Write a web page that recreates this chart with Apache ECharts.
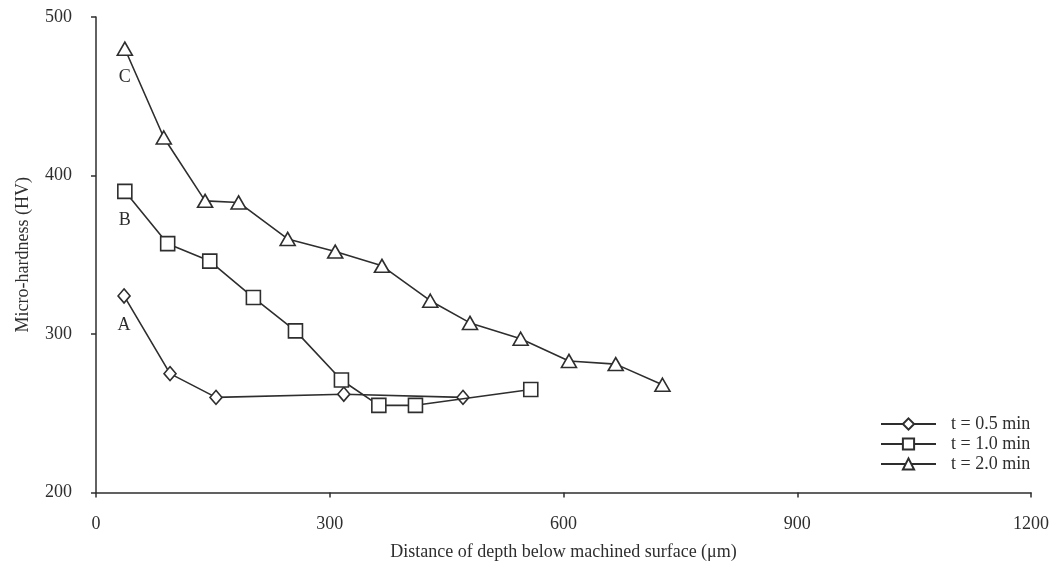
<!DOCTYPE html>
<html>
<head>
<meta charset="utf-8">
<script src="https://cdn.jsdelivr.net/npm/echarts@6/dist/echarts.min.js"></script>
<style>
html,body{margin:0;padding:0;background:#fff;}
#c{width:1052px;height:570px;}
</style>
</head>
<body>
<div id="c"></div>
<script>
// Data
const seriesNames = ['t = 0.5 min', 't = 1.0 min', 't = 2.0 min'];
const curveLabels = ['A', 'B', 'C'];
const depthA = [36, 95, 154, 318, 471];
const hardA  = [324, 275, 260, 262, 260];
const depthB = [37, 92, 146, 202, 256, 315, 363, 410, 558];
const hardB  = [390, 357, 346, 323, 302, 271, 255, 255, 265];
const depthC = [37, 87, 140, 183, 246, 307, 367, 429, 480, 545, 607, 667, 727];
const hardC  = [480, 424, 384, 383, 360, 352, 343, 321, 307, 297, 283, 281, 268];
const xTicks = [0, 300, 600, 900, 1200];
const yTicks = [200, 300, 400, 500];

const FONT = '"Liberation Serif", "Times New Roman", serif';
const INK = '#2e2e2e';

function pairs(xs, ys){ return xs.map((x,i)=>[x, ys[i]]); }
const sets = [
  {x: depthA, y: hardA, sym: 'diamond', size: [12, 14]},
  {x: depthB, y: hardB, sym: 'rect', size: 14},
  {x: depthC, y: hardC, sym: 'triangle', size: [15, 13]}
];

const chart = echarts.init(document.getElementById('c'), null, {renderer: 'canvas'});
chart.setOption({
  animation: false,
  backgroundColor: '#ffffff',
  textStyle: {fontFamily: FONT, color: INK},
  grid: {left: 96, right: 19, top: 17, bottom: 77.5, containLabel: false},
  legend: {
    orient: 'vertical',
    left: 880,
    top: 415,
    padding: 0,
    itemWidth: 55,
    itemHeight: 14,
    itemGap: 2,
    textStyle: {fontFamily: FONT, fontSize: 18, color: INK, padding: [0, 0, 0, 10]},
    data: seriesNames
  },
  xAxis: {
    type: 'value',
    min: xTicks[0], max: xTicks[xTicks.length-1], interval: 300,
    name: 'Distance of depth below machined surface (\u03bcm)',
    nameLocation: 'middle',
    nameGap: 51,
    nameTextStyle: {fontFamily: FONT, fontSize: 18, color: INK},
    axisLine: {lineStyle: {color: INK, width: 1.5}},
    axisTick: {show: true, inside: false, length: 5, lineStyle: {color: INK, width: 1.5}},
    axisLabel: {fontFamily: FONT, fontSize: 18, color: INK, margin: 23, formatter: v => String(v)},
    splitLine: {show: false}
  },
  yAxis: {
    type: 'value',
    min: yTicks[0], max: yTicks[yTicks.length-1], interval: 100,
    name: 'Micro-hardness (HV)',
    nameLocation: 'middle',
    nameGap: 64,
    nameRotate: 90,
    nameTextStyle: {fontFamily: FONT, fontSize: 18, color: INK},
    axisLine: {show: true, lineStyle: {color: INK, width: 1.5}},
    axisTick: {show: true, inside: false, length: 5, lineStyle: {color: INK, width: 1.5}},
    axisLabel: {fontFamily: FONT, fontSize: 18, color: INK, margin: 24, formatter: v => String(v)},
    splitLine: {show: false}
  },
  series: sets.map((s, k) => ({
    name: seriesNames[k],
    type: 'line',
    data: pairs(s.x, s.y).map((p, i) => i === 0 ? {
      value: p,
      label: {show: true, formatter: curveLabels[k], position: 'bottom', distance: 12,
              fontFamily: FONT, fontSize: 18, color: INK}
    } : p),
    symbol: s.sym,
    symbolSize: s.size,
    showAllSymbol: true,
    lineStyle: {color: INK, width: 1.6},
    itemStyle: {color: '#ffffff', borderColor: INK, borderWidth: 1.6},
    emphasis: {disabled: true},
    z: 3 + k
  }))
});
</script>
</body>
</html>
